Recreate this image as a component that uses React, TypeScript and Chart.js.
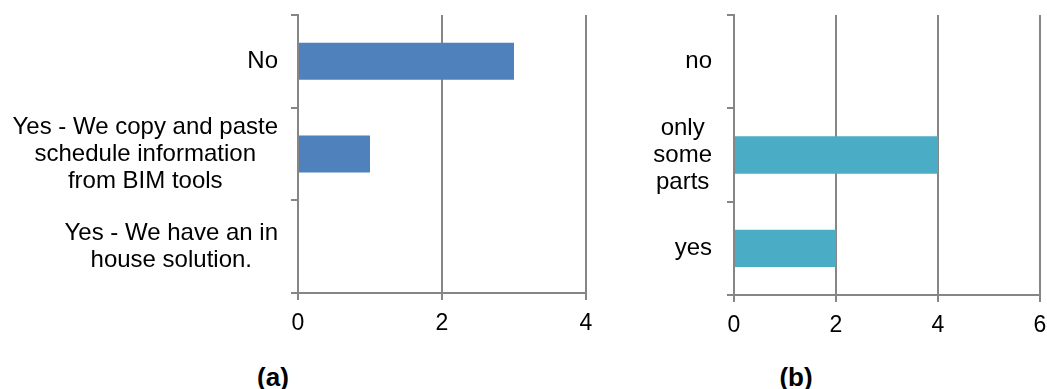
import React, { useEffect, useRef } from "react";
import { Chart, registerables } from "chart.js";

Chart.register(...registerables);

const categoriesA: (string | string[])[] = [
  "No",
  ["Yes - We copy and paste", "schedule information", "from BIM tools"],
  ["Yes - We have an in", "house solution."],
];
const valuesA = [3, 1, 0];
const ticksA = { min: 0, max: 4, step: 2 };

const categoriesB: (string | string[])[] = ["no", ["only", "some", "parts"], "yes"];
const valuesB = [0, 4, 2];
const ticksB = { min: 0, max: 6, step: 2 };

const FONT = "'Liberation Sans', Arial, sans-serif";
const GRID = "#868686";

function makeLabelPlugin(labels: (string | string[])[], gap: number) {
  return {
    id: "multiLabels",
    afterDraw(chart: any) {
      const ctx = chart.ctx;
      const y = chart.scales.y;
      const left = chart.chartArea.left;
      ctx.save();
      ctx.font = `24px ${FONT}`;
      ctx.fillStyle = "#000";
      ctx.textBaseline = "middle";
      ctx.textAlign = "center";
      const LH = 27;
      labels.forEach((lab, i) => {
        const lines = Array.isArray(lab) ? lab : [lab];
        const w = Math.max(...lines.map((l) => ctx.measureText(l).width));
        const right = left - gap;
        const cx = right - w / 2;
        const cy = y.getPixelForValue(i);
        lines.forEach((l, j) => {
          ctx.fillText(l, cx, cy + (j - (lines.length - 1) / 2) * LH);
        });
      });
      ctx.restore();
    },
  };
}

function BarPanel(props: {
  labels: (string | string[])[];
  values: number[];
  color: string;
  t: { min: number; max: number; step: number };
  width: number;
  height: number;
  axisLeft: number;
  axisBottom: number;
  padRight: number;
  gap: number;
}) {
  const ref = useRef<HTMLCanvasElement>(null);
  useEffect(() => {
    if (!ref.current) return;
    const p = props;
    const chart = new Chart(ref.current, {
      type: "bar",
      data: {
        labels: p.labels as any,
        datasets: [
          {
            data: p.values,
            backgroundColor: p.color,
            borderWidth: 0,
            categoryPercentage: 1,
            barPercentage: 0.4,
          },
        ],
      },
      options: {
        indexAxis: "y",
        animation: false,
        responsive: false,
        layout: { padding: { top: 15, right: p.padRight, left: 0, bottom: 0 } },
        plugins: { legend: { display: false }, tooltip: { enabled: false } },
        scales: {
          x: {
            min: p.t.min,
            max: p.t.max,
            ticks: {
              stepSize: p.t.step,
              color: "#000",
              font: { family: FONT, size: 23 },
              padding: 10,
            },
            grid: { color: GRID, lineWidth: 2, tickLength: 7, drawOnChartArea: true },
            border: { color: GRID, width: 2 },
            afterFit: (s: any) => {
              s.height = p.height - p.axisBottom;
              s.paddingLeft = 0;
              s.paddingRight = 0;
            },
          },
          y: {
            ticks: { display: false },
            grid: { color: GRID, lineWidth: 2, tickLength: 7, drawOnChartArea: false, offset: true },
            border: { color: GRID, width: 2 },
            afterFit: (s: any) => {
              s.width = p.axisLeft;
              s.paddingTop = 0;
              s.paddingBottom = 0;
            },
          },
        },
      } as any,
      plugins: [makeLabelPlugin(p.labels, p.gap)],
    });
    return () => chart.destroy();
  }, []);
  return (
    <canvas
      ref={ref}
      width={props.width}
      height={props.height}
      style={{ width: props.width, height: props.height, display: "block" }}
    />
  );
}

export default function App() {
  const caption: React.CSSProperties = {
    position: "absolute",
    width: 100,
    textAlign: "center",
    font: `bold 26px ${FONT}`,
    lineHeight: "30px",
    color: "#000",
    top: 362,
  };
  return (
    <div style={{ position: "absolute", left: 0, top: 0, width: 1047, height: 389, background: "#fff" }}>
      <div style={{ position: "absolute", left: 0, top: 0 }}>
        <BarPanel
          labels={categoriesA}
          values={valuesA}
          color="#4F81BD"
          t={ticksA}
          width={600}
          height={345}
          axisLeft={298}
          axisBottom={293}
          padRight={14}
          gap={20}
        />
      </div>
      <div style={{ position: "absolute", left: 600, top: 0 }}>
        <BarPanel
          labels={categoriesB}
          values={valuesB}
          color="#4BACC6"
          t={ticksB}
          width={447}
          height={345}
          axisLeft={134}
          axisBottom={295}
          padRight={7}
          gap={22}
        />
      </div>
      <div style={{ ...caption, left: 223 }}>(a)</div>
      <div style={{ ...caption, left: 746 }}>(b)</div>
    </div>
  );
}
